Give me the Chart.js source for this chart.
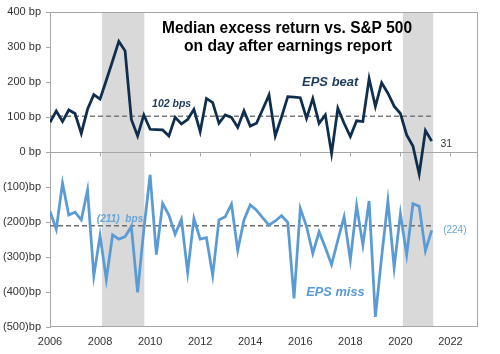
<!DOCTYPE html>
<html>
<head>
<meta charset="utf-8">
<script src="https://cdn.jsdelivr.net/npm/chart.js@4/dist/chart.umd.min.js"></script>
<style>
  html, body { margin: 0; padding: 0; background: #fff; }
  #wrap { width: 500px; height: 354px; }
</style>
</head>
<body>
<div id="wrap"><canvas id="canvas" width="500" height="354"></canvas></div>
<script>
// quarterly medians, 2006 Q1 .. 2021 Q2 (bp)
const quarters = [];
for (let yr = 2006; yr <= 2021; yr++) {
    for (let q = 1; q <= 4; q++) quarters.push(yr + 'Q' + q);
}
quarters.length = 62;

const epsBeat = [
    85, 117, 87, 120, 110, 53, 122, 164, 151, 205, 260, 316, 289, 93, 46, 106,
    65, 64, 63, 46, 99, 80, 93, 122, 58, 153, 141, 82, 106, 99, 70, 118,
    74, 82, 122, 163, 46, 100, 158, 157, 155, 96, 153, 82, 106, -4, 125, 82,
    44, 89, 87, 210, 130, 198, 168, 131, 110, 49, 17, -63, 61, 31
];
const epsMiss = [
    -169, -221, -89, -180, -172, -194, -109, -354, -239, -364, -237, -249, -242, -213, -401, -220,
    -65, -293, -147, -180, -235, -192, -344, -190, -249, -245, -353, -194, -185, -149, -281, -194,
    -151, -166, -188, -209, -197, -182, -201, -418, -161, -213, -290, -228, -273, -322, -252, -185,
    -309, -153, -266, -140, -471, -300, -140, -330, -176, -294, -148, -155, -282, -224
];
const beatAvg = 102;
const missAvg = -211;
const avgSpan = [2006, 2021.3];
const recessions = [[2008.08, 2009.77], [2020.1, 2021.31]];
const xTicks = [2006, 2008, 2010, 2012, 2014, 2016, 2018, 2020, 2022];

const navy = '#0f2d4c';
const skyBlue = '#5b9bd5';
const font = '"Liberation Sans", Arial, sans-serif';

function quarterToX(label) {
    let parts = label.split('Q');
    return Number(parts[0]) + (Number(parts[1]) - 1) / 4;
}

function toPoints(values) {
    return values.map(function(v, i) {
        return { x: quarterToX(quarters[i]), y: v };
    });
}

function avgLine(v) {
    return avgSpan.map(function(x) { return { x: x, y: v }; });
}

// bp format used by the labels: negatives in brackets
function bp(v) {
    return v < 0 ? '(' + (-v) + ')' : String(v);
}

// squeeze text to the width it has in the picture
function fitText(ctx, str, left, right, baseline) {
    let w = ctx.measureText(str).width;
    ctx.save();
    ctx.translate(left, baseline);
    ctx.scale((right - left) / w, 1);
    ctx.fillText(str, 0, 0);
    ctx.restore();
}

const decor = {
    id: 'decor',
    beforeDatasetsDraw(chart) {
        const { ctx, chartArea: a, scales: { x, y } } = chart;
        ctx.save();
        ctx.fillStyle = '#d9d9d9';
        recessions.forEach(function(r) {
            let x0 = x.getPixelForValue(r[0]), x1 = x.getPixelForValue(r[1]);
            ctx.fillRect(x0, a.top, x1 - x0, a.bottom - a.top);
        });
        ctx.strokeStyle = '#a6a6a6';
        ctx.lineWidth = 1;
        ctx.strokeRect(a.left + 0.5, a.top + 0.5, a.right - a.left - 1, a.bottom - a.top - 1);
        // zero line with the year ticks
        let y0 = Math.round(y.getPixelForValue(0)) + 0.5;
        ctx.beginPath();
        ctx.moveTo(a.left, y0);
        ctx.lineTo(a.right, y0);
        xTicks.forEach(function(v) {
            let px = Math.round(x.getPixelForValue(v)) + 0.5;
            ctx.moveTo(px, y0);
            ctx.lineTo(px, y0 + 4);
        });
        ctx.stroke();
        ctx.restore();
    },
    afterDatasetsDraw(chart) {
        const { ctx, scales: { x, y } } = chart;
        ctx.save();
        ctx.textAlign = 'left';
        ctx.textBaseline = 'alphabetic';

        ctx.fillStyle = '#000';
        ctx.font = 'bold 16px ' + font;
        fitText(ctx, 'Median excess return vs. S&P 500', 162, 412, 33);
        fitText(ctx, 'on day after earnings report', 184, 392, 50.5);

        ctx.fillStyle = '#1b3a5c';
        ctx.font = 'italic bold 11px ' + font;
        fitText(ctx, bp(beatAvg) + ' bps', x.getPixelForValue(2010.08), x.getPixelForValue(2011.64), y.getPixelForValue(128));
        ctx.font = 'italic bold 13.5px ' + font;
        fitText(ctx, 'EPS beat', x.getPixelForValue(2016.07), x.getPixelForValue(2018.32), y.getPixelForValue(189));

        ctx.fillStyle = '#2e3b48';
        ctx.font = '10.5px ' + font;
        ctx.fillText(bp(epsBeat[epsBeat.length - 1]), x.getPixelForValue(2021.6), y.getPixelForValue(13));

        ctx.fillStyle = '#6aa5d8';
        ctx.font = 'italic bold 10.5px ' + font;
        fitText(ctx, bp(missAvg) + '  bps', x.getPixelForValue(2007.87), x.getPixelForValue(2009.73), y.getPixelForValue(-199));
        ctx.font = '10.5px ' + font;
        fitText(ctx, bp(epsMiss[epsMiss.length - 1]), x.getPixelForValue(2021.71), x.getPixelForValue(2022.64), y.getPixelForValue(-232));
        ctx.fillStyle = skyBlue;
        ctx.font = 'italic bold 13.5px ' + font;
        fitText(ctx, 'EPS miss', x.getPixelForValue(2016.24), x.getPixelForValue(2018.57), y.getPixelForValue(-411));
        ctx.restore();
    }
};

let ctx = document.getElementById('canvas').getContext('2d');
let config = {
    type: 'line',
    data: {
        datasets: [{
            label: 'EPS beat',
            data: toPoints(epsBeat),
            borderColor: navy,
            borderWidth: 2.75,
            pointRadius: 0,
            order: 1
        }, {
            label: 'EPS miss',
            data: toPoints(epsMiss),
            borderColor: skyBlue,
            borderWidth: 2.75,
            pointRadius: 0,
            order: 1
        }, {
            label: 'beat avg',
            data: avgLine(beatAvg),
            borderColor: '#7a7a7a',
            borderWidth: 1.5,
            borderDash: [5, 3],
            pointRadius: 0,
            order: 2
        }, {
            label: 'miss avg',
            data: avgLine(missAvg),
            borderColor: '#6f6f6f',
            borderWidth: 1.5,
            borderDash: [5, 3],
            pointRadius: 0,
            order: 2
        }]
    },
    options: {
        responsive: false,
        animation: false,
        layout: { padding: { top: 12, right: 22, left: 0, bottom: 0 } },
        plugins: {
            legend: { display: false },
            tooltip: { enabled: false }
        },
        scales: {
            x: {
                type: 'linear',
                min: 2006,
                max: 2023.1,
                afterBuildTicks: function(s) {
                    s.ticks = xTicks.map(function(v) { return { value: v }; });
                },
                afterFit: function(s) { s.height = 27; },
                grid: { display: false, drawTicks: false },
                border: { display: false },
                ticks: {
                    callback: function(v) { return String(v); },
                    autoSkip: false,
                    maxRotation: 0,
                    padding: 8,
                    color: '#333',
                    font: { family: font, size: 11 }
                }
            },
            y: {
                min: -500,
                max: 400,
                afterFit: function(s) { s.width = 50; },
                grid: { drawOnChartArea: false, drawTicks: true, tickLength: 4, color: '#a6a6a6' },
                border: { display: true, color: '#a6a6a6' },
                ticks: {
                    stepSize: 100,
                    padding: 5,
                    color: '#333',
                    font: { family: font, size: 11 },
                    callback: function(v) { return v < 0 ? bp(v) + 'bp' : v + ' bp'; }
                }
            }
        }
    },
    plugins: [decor]
};

let chart = new Chart(ctx, config);
</script>
</body>
</html>
